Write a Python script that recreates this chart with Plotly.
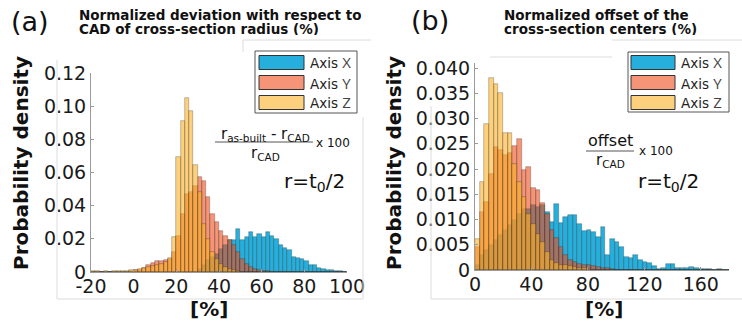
import numpy as np
import plotly.graph_objects as go

W, H = 742, 324

# ---------------- data: panel (a) ----------------
a_bin_start = -20
a_bin_width = 2
a_axis_z = [0.0005, 0.0004, 0.0003, 0.0004, 0.0003, 0.0004, 0.0005, 0.0005, 0.0007, 0.0012,
            0.0015, 0.002, 0.0025, 0.003, 0.0038, 0.0045, 0.005, 0.0058, 0.0085, 0.021,
            0.0695, 0.091, 0.105, 0.097, 0.0645, 0.048, 0.029, 0.02, 0.012, 0.008,
            0.005, 0.003, 0.002, 0.001, 0.0005, 0, 0, 0, 0, 0,
            0, 0, 0, 0, 0, 0, 0, 0, 0, 0,
            0, 0, 0, 0, 0, 0, 0, 0, 0, 0]
a_axis_y = [0.0003, 0.0003, 0.0002, 0.0003, 0.0002, 0.0003, 0.0003, 0.0003, 0.0003, 0.0005,
            0.001, 0.0015, 0.0025, 0.004, 0.0055, 0.0065, 0.0065, 0.007, 0.008, 0.012,
            0.022, 0.035, 0.047, 0.048, 0.052, 0.057, 0.055, 0.045, 0.035, 0.03,
            0.025, 0.022, 0.019, 0.016, 0.012, 0.008, 0.005, 0.003, 0.002, 0.0012,
            0.0008, 0.0005, 0.0003, 0, 0, 0, 0, 0, 0, 0,
            0, 0, 0, 0, 0, 0, 0, 0, 0, 0]
a_axis_x = [0, 0, 0, 0, 0, 0, 0, 0, 0, 0,
            0, 0, 0, 0, 0, 0, 0, 0, 0, 0,
            0, 0, 0, 0, 0, 0.002, 0.004, 0.007, 0.009, 0.011,
            0.014, 0.016, 0.019, 0.019, 0.026, 0.019, 0.021, 0.024, 0.021, 0.023,
            0.021, 0.024, 0.022, 0.020, 0.016, 0.0145, 0.013, 0.009, 0.0085, 0.008,
            0.0065, 0.0045, 0.004, 0.0025, 0.002, 0.0015, 0.001, 0.0006, 0.0004, 0.0003]

# ---------------- data: panel (b) ----------------
b_bin_start = 0
b_bin_width = 3.3
b_axis_z = [0.0062, 0.0175, 0.029, 0.038, 0.0368, 0.035, 0.0272, 0.0272, 0.021, 0.0175,
            0.0145, 0.011, 0.0092, 0.0072, 0.0055, 0.0035, 0.002, 0.0013, 0.001, 0.001,
            0.0007, 0.0005, 0.0003, 0.0003, 0.0002, 0, 0, 0, 0, 0,
            0, 0, 0, 0, 0, 0, 0, 0, 0, 0,
            0, 0, 0, 0, 0, 0, 0, 0, 0, 0,
            0, 0, 0, 0, 0]
b_axis_y = [0.0045, 0.0115, 0.0135, 0.019, 0.0244, 0.0238, 0.0228, 0.0232, 0.0245, 0.026,
            0.0198, 0.0205, 0.0162, 0.0158, 0.0132, 0.011, 0.008, 0.0063, 0.0045, 0.003,
            0.002, 0.0015, 0.0012, 0.001, 0.001, 0.0008, 0.0006, 0.0004, 0.0003, 0.0002,
            0, 0, 0, 0, 0, 0, 0, 0, 0, 0,
            0, 0, 0, 0, 0, 0, 0, 0, 0, 0,
            0, 0, 0, 0, 0]
b_axis_x = [0.001, 0.003, 0.004, 0.005, 0.006, 0.007, 0.008, 0.009, 0.01, 0.011,
            0.012, 0.012, 0.0128, 0.0125, 0.0128, 0.0115, 0.0095, 0.013, 0.0093, 0.0104,
            0.0108, 0.0108, 0.0091, 0.0078, 0.0079, 0.0076, 0.0065, 0.0085, 0.003, 0.0062,
            0.0055, 0.0045, 0.0025, 0.0023, 0.003, 0.002, 0.0016, 0.0013, 0.0008, 0.0002,
            0.0003, 0.0011, 0.0011, 0.0003, 0.0003, 0.0003, 0.0005, 0.0003, 0.0002, 0.0002,
            0.0002, 0.0001, 0.0002, 0.0001, 0.0001]

series_names = ["Axis X", "Axis Y", "Axis Z"]
a_xticks = [-20, 0, 20, 40, 60, 80, 100]
a_xticklabels = ["-20", "0", "20", "40", "60", "80", "100"]
a_yticks = [0, 0.02, 0.04, 0.06, 0.08, 0.10, 0.12]
a_yticklabels = ["0", "0.02", "0.04", "0.06", "0.08", "0.10", "0.12"]
b_xticks = [0, 40, 80, 120, 160]
b_yticks = [0, 0.005, 0.010, 0.015, 0.020, 0.025, 0.030, 0.035, 0.040]
b_yticklabels = ["0", "0.005", "0.010", "0.015", "0.020", "0.025", "0.030", "0.035", "0.040"]

# ---------------- styling ----------------
fills = ["rgba(0,161,214,0.85)", "rgba(238,77,27,0.6)", "rgba(252,177,38,0.6)"]
swatch = ["rgb(38,174,221)", "rgb(245,148,118)", "rgb(253,208,125)"]
edge = dict(color="rgba(30,30,30,0.45)", width=0.6)
TICKFONT = dict(family="DejaVu Sans", size=19, color="#1a1a1a")
BOLD = "DejaVu Sans"


def px(x):
    return x / W


def py(y):
    return 1 - y / H


fig = go.Figure()


def add_hist(start, width, series, xa, ya):
    n = len(series[0])
    centers = start + width * (np.arange(n) + 0.5)
    for name, vals, col in zip(series_names, series, fills):
        fig.add_trace(go.Bar(x=centers, y=vals, width=width, name=name,
                             marker=dict(color=col, line=edge),
                             xaxis=xa, yaxis=ya, showlegend=False))


add_hist(a_bin_start, a_bin_width, [a_axis_x, a_axis_y, a_axis_z], "x", "y")
add_hist(b_bin_start, b_bin_width, [b_axis_x, b_axis_y, b_axis_z], "x2", "y2")

axis_common = dict(showgrid=False, zeroline=False, showline=True, linecolor="#9a9a9a",
                   linewidth=1, ticks="inside", ticklen=3, tickcolor="#9a9a9a",
                   tickfont=TICKFONT, automargin=False)

fig.update_layout(
    width=W, height=H, margin=dict(l=0, r=0, t=0, b=0), autosize=False,
    paper_bgcolor="white", plot_bgcolor="white", barmode="overlay", bargap=0,
    xaxis=dict(domain=[px(91), px(347)], range=[-20, 100], tickvals=a_xticks,
               ticktext=a_xticklabels, anchor="y", ticklabelstandoff=-3, **axis_common),
    yaxis=dict(domain=[py(272), py(73)], range=[0, 0.12], tickvals=a_yticks,
               ticktext=a_yticklabels, anchor="x", **axis_common),
    xaxis2=dict(domain=[px(475), px(729)], range=[0, 180], tickvals=b_xticks,
                anchor="y2", ticklabelstandoff=-3, **axis_common),
    yaxis2=dict(domain=[py(270), py(63)], range=[0, 0.041], tickvals=b_yticks,
                ticktext=b_yticklabels, anchor="x2", **axis_common),
)

ann = []


def text(x, y, s, size, family="DejaVu Sans", bold=False, xanchor="center", angle=0,
         color="#111", height=None):
    if bold:
        s = "<b>" + s + "</b>"
    d = dict(x=px(x), y=py(y), xref="paper", yref="paper", text=s, showarrow=False,
             xanchor=xanchor, yanchor="middle", textangle=angle,
             font=dict(family=family, size=size, color=color))
    if height:
        d["height"] = height
        d["borderpad"] = 0
    ann.append(d)


# panel labels and titles
text(30, 22, "(a)", 27)
text(430, 21, "(b)", 27)
text(78, 15, "Normalized deviation with respect to", 13.5, BOLD, True, "left", height=13)
text(78, 29, "CAD of cross-section radius (%)", 13.5, BOLD, True, "left", height=13)
text(503, 15, "Normalized offset of the", 13.5, BOLD, True, "left", height=13)
text(503, 29, "cross-section centers (%)", 13.5, BOLD, True, "left", height=13)

# axis titles
text(21, 163, "Probability density", 20, BOLD, True, angle=-90)
text(394, 163, "Probability density", 20, BOLD, True, angle=-90)
text(209, 309, "[%]", 20, BOLD, True)
text(604, 309, "[%]", 20, BOLD, True)

# formulas
text(265, 134, "r<sub>as-built</sub> - r<sub>CAD</sub>", 15)
text(265, 153, "r<sub>CAD</sub>", 15)
text(333, 143, "x 100", 12)
text(314, 182, "r=t<sub>0</sub>/2", 20)
text(610, 141, "offset", 16)
text(610, 160, "r<sub>CAD</sub>", 15)
text(656, 151, "x 100", 12)
text(668, 182, "r=t<sub>0</sub>/2", 20)

shapes = []


def line(x0, y0, x1, y1, color="#dcdcdc", width=1):
    shapes.append(dict(type="line", xref="paper", yref="paper", x0=px(x0), y0=py(y0),
                       x1=px(x1), y1=py(y1), line=dict(color=color, width=width)))


def rect(x0, y0, x1, y1, fill, lc="#333", lw=1):
    shapes.append(dict(type="rect", xref="paper", yref="paper", x0=px(x0), y0=py(y0),
                       x1=px(x1), y1=py(y1), fillcolor=fill, line=dict(color=lc, width=lw)))


line(215, 142, 313, 142, "#555", 1)
line(586, 151, 634, 151, "#555", 1)

# faint sub-figure frame lines
line(57, 60, 57, 299)
line(57, 299, 363, 299)
line(363, 117, 363, 299)
line(243, 40, 371, 40)
line(243, 40, 243, 52)
line(431, 106, 431, 299)
line(431, 299, 742, 299)
line(490, 57, 612, 57)
line(612, 40, 742, 40)

# manual legends
letters = ["X", "Y", "Z"]
for (bx0, by0, bx1, by1, sx0, sx1, tx) in [(255, 51, 357, 113, 259, 304, 308),
                                           (628, 52, 729, 112, 631, 675, 679)]:
    rect(bx0, by0, bx1, by1, "white", "#555", 1)
    for i in range(3):
        yc = 62.5 + 20 * i
        rect(sx0, yc - 7, sx1, yc + 7, swatch[i], "#333", 1)
        text(tx, yc, "Axis <span style='font-family:Open Sans;font-size:15px;color:#444'>"
             + letters[i] + "</span>", 13.5, "DejaVu Sans", False, "left", color="#222")

fig.update_layout(annotations=ann, shapes=shapes)
fig.write_html("out.html", config={"displayModeBar": False},
               post_script="document.body.style.margin='0px';document.body.style.padding='0px';")
